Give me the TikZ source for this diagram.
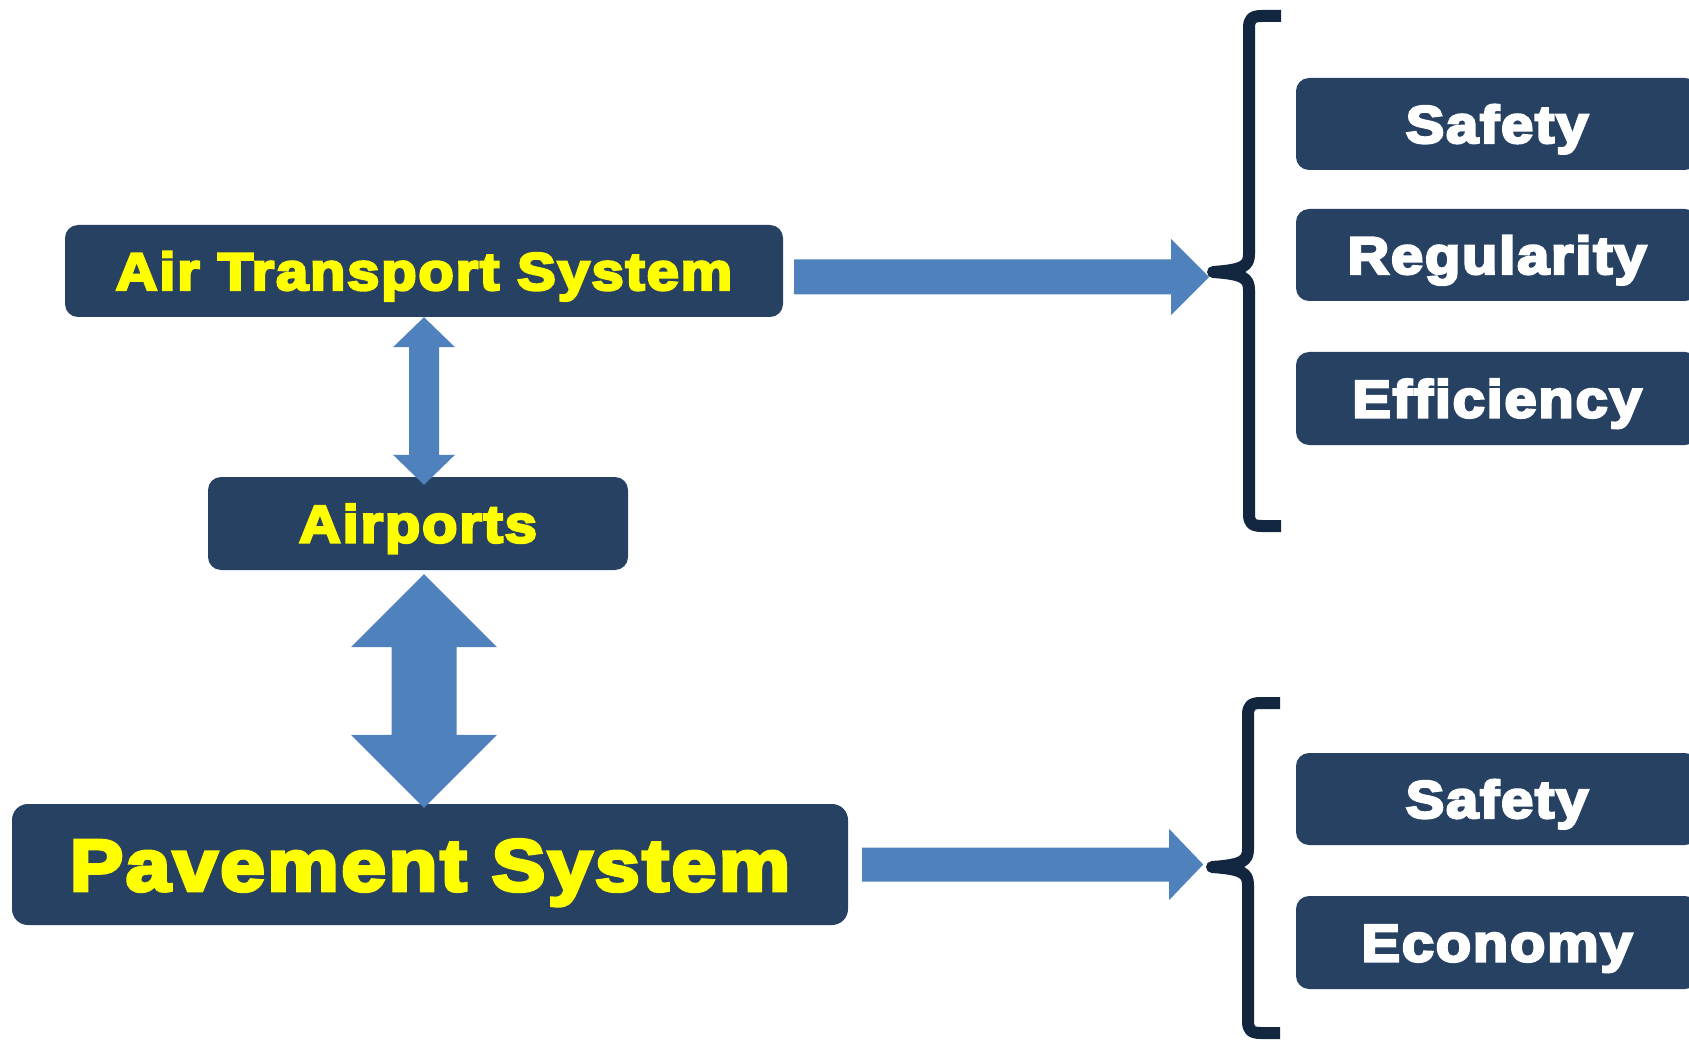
\documentclass[tikz,border=0pt]{standalone}
\usepackage{fontspec}
\newfontfamily\blackfont{Liberation Sans}[FakeStretch=1.10,BoldFeatures={FakeBold=5,LetterSpace=3.5}]
\usetikzlibrary{calc}
\definecolor{boxblue}{RGB}{39,65,98}
\definecolor{arrowblue}{RGB}{79,129,189}
\definecolor{bracecol}{RGB}{18,38,63}
\definecolor{ytext}{RGB}{255,255,0}
\newcommand\HArrow[5]{%
 \fill[arrowblue] ($(#1)+(0,-#3)$) -- ($(#2)+(-#5,-#3)$) -- ($(#2)+(-#5,-#4)$) -- (#2) -- ($(#2)+(-#5,#4)$) -- ($(#2)+(-#5,#3)$) -- ($(#1)+(0,#3)$) -- cycle;}
\newcommand\VDArrow[5]{%
 \fill[arrowblue] (#1) -- ($(#1)+(#4,#5)$) -- ($(#1)+(#3,#5)$) -- ($(#2)+(#3,-#5)$) -- ($(#2)+(#4,-#5)$) -- (#2) -- ($(#2)+(-#4,-#5)$) -- ($(#2)+(-#3,-#5)$) -- ($(#1)+(-#3,#5)$) -- ($(#1)+(-#4,#5)$) -- cycle;}
\newcommand\DrawBrace[4]{%
 \draw[bracestyle] (#1+68,#3) -- (#1+49,#3) .. controls (#1+39,#3) and (#1+36,#3+3) .. (#1+36,#3+12) -- (#1+36,#2-18) .. controls (#1+36,#2-6) and (#1+30,#2-2) .. (#1,#2) .. controls (#1+30,#2+2) and (#1+36,#2+6) .. (#1+36,#2+18) -- (#1+36,#4-12) .. controls (#1+36,#4-3) and (#1+39,#4) .. (#1+49,#4) -- (#1+68,#4);}
\tikzset{
 darkbox/.style={fill=boxblue, rounded corners=13pt, inner sep=0pt, text depth=0pt, align=center},
 lefttext/.style={text=ytext, font=\blackfont\bfseries\fontsize{52.6}{60}\selectfont, text height=37.7pt},
 bigtext/.style={text=ytext, font=\blackfont\bfseries\fontsize{73}{80}\selectfont, text height=52.3pt},
 righttext/.style={text=white, font=\blackfont\bfseries\fontsize{52.5}{60}\selectfont, text height=37.6pt},
 bracestyle/.style={draw=bracecol, line width=12pt, line join=round, line cap=butt},
}
\begin{document}
\begin{tikzpicture}[x=1pt,y=-1pt]
\useasboundingbox (0,0) rectangle (1689,1040);
\clip (0,0) rectangle (1689,1040);
% left boxes
\node[darkbox, lefttext, minimum width=718pt, minimum height=92pt] (air) at (424,271) {Air Transport System};
\node[darkbox, lefttext, minimum width=420pt, minimum height=93pt] (airports) at (418,523.5) {Airports};
\node[darkbox, bigtext, rounded corners=16pt, minimum width=836pt, minimum height=121pt] (pav) at (430,864.5) {Pavement System};
% right boxes
\node[darkbox, righttext, minimum width=402pt, minimum height=92pt] (safety1) at (1497,124) {Safety};
\node[darkbox, righttext, minimum width=402pt, minimum height=92pt] (regularity) at (1497,255) {Regularity};
\node[darkbox, righttext, minimum width=402pt, minimum height=93pt] (efficiency) at (1497,398.5) {Efficiency};
\node[darkbox, righttext, minimum width=402pt, minimum height=92pt] (safety2) at (1497,799) {Safety};
\node[darkbox, righttext, minimum width=402pt, minimum height=93pt] (economy) at (1497,942.5) {Economy};
% braces
\coordinate (nib1) at (1213,272);
\coordinate (nib2) at (1212,867);
\DrawBrace{1213}{272}{16}{526}
\DrawBrace{1212}{867}{703}{1033}
% connectors
\coordinate (d1t) at (air.south);
\coordinate (d1b) at ($(air.south |- airports.north)+(0,8)$);
\coordinate (d2t) at ($(air.south |- airports.south)+(0,4)$);
\coordinate (d2b) at ($(air.south |- pav.north)+(0,4)$);
\VDArrow{d1t}{d1b}{15}{31}{30}
\VDArrow{d2t}{d2b}{32.5}{73}{73}
\coordinate (h1s) at ($(air.east)+(11,6)$);
\coordinate (h1t) at ($(nib1)+(-4,5)$);
\HArrow{h1s}{h1t}{17.5}{38}{38}
\coordinate (h2s) at ($(pav.east)+(14,0)$);
\coordinate (h2t) at ($(pav.east)+(355,0)$);
\HArrow{h2s}{h2t}{17}{35.5}{34}
\end{tikzpicture}
\end{document}
